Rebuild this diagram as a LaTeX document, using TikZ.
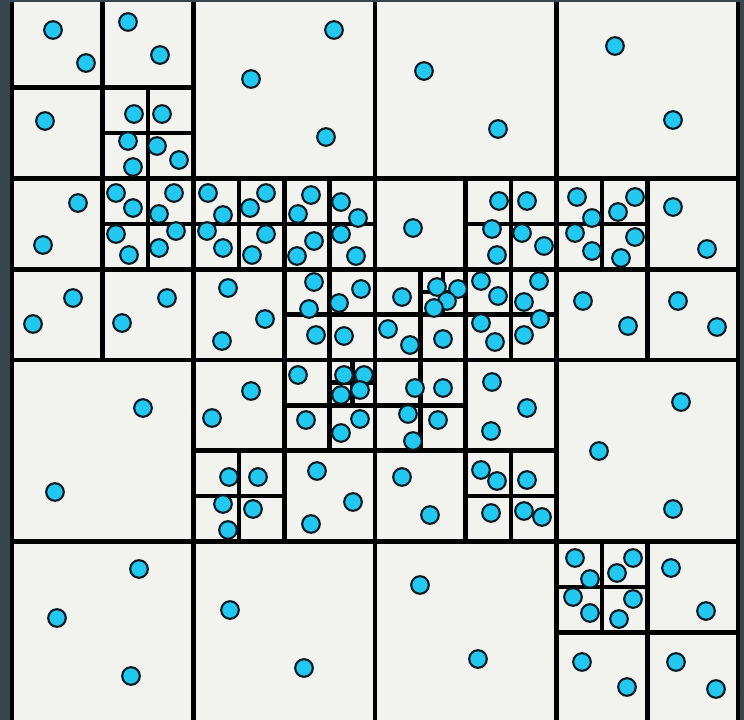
\documentclass[tikz,border=0pt]{standalone}
\definecolor{slate}{HTML}{37474F}
\definecolor{paper}{HTML}{F2F2EF}
\definecolor{dotfill}{HTML}{22C8F0}
\definecolor{dotline}{HTML}{0E1A22}
\begin{document}
\begin{tikzpicture}[x=0.75pt,y=-0.75pt]
\tikzset{
  gridline/.style={line width=3.4pt, black, line cap=rect},
  dot/.style={fill=dotfill, draw=dotline, line width=1.6pt}
}
\useasboundingbox (0,0) rectangle (744,720);
\fill[slate] (0,0) rectangle (744,720);
\fill[paper] (12,-3) rectangle (738,723);
\begin{scope}[shift={(12,-3)}, x=17.015625pt, y=-17.015625pt]
  % top-level 4x4 grid and border
  \foreach \k in {0,8,16,24,32} {
    \draw[gridline] (\k,0) -- (\k,32);
    \draw[gridline] (0,\k) -- (32,\k);
  }
  % second level
  \foreach \cx/\cy in {0/0,0/8,8/8,16/8,24/8,8/16,16/16,24/24} {
    \draw[gridline] (\cx+4,\cy) -- (\cx+4,\cy+8);
    \draw[gridline] (\cx,\cy+4) -- (\cx+8,\cy+4);
  }
  % third level
  \foreach \cx/\cy in {4/4,4/8,8/8,12/8,12/12,20/8,16/12,20/12,24/8,12/16,8/20,16/16,20/20,24/24} {
    \draw[gridline] (\cx+2,\cy) -- (\cx+2,\cy+4);
    \draw[gridline] (\cx,\cy+2) -- (\cx+4,\cy+2);
  }
  % fourth level
  \foreach \cx/\cy in {18/12,14/16} {
    \draw[gridline] (\cx+1,\cy) -- (\cx+1,\cy+2);
    \draw[gridline] (\cx,\cy+1) -- (\cx+2,\cy+1);
  }
\end{scope}
\fill[slate] (0,0) rectangle (744,2.5);
% points
\foreach \x/\y in {
  53/30,86/63,128/22,160/55,45/121,134/114,162/114,128/141,133/167,157/146,179/160,
  334/30,251/79,326/137,
  424/71,498/129,
  615/46,673/120,
  78/203,43/245,116/193,133/208,174/193,159/214,116/234,129/255,176/231,159/248,73/298,33/324,167/298,122/323,
  208/193,223/215,207/231,223/248,266/193,250/208,266/234,252/255,311/195,298/214,341/202,358/218,314/241,297/256,341/234,356/256,228/288,222/341,265/319,314/282,309/309,361/289,339/303,316/335,344/336,
  413/228,499/201,527/201,492/229,497/255,522/233,544/246,402/297,437/287,458/289,447/301,434/308,388/329,410/345,443/339,481/281,498/296,539/281,524/302,481/323,495/342,540/319,524/335,
  577/197,592/218,635/197,618/212,575/233,592/251,635/237,621/258,673/207,707/249,583/301,628/326,678/301,717/327,
  143/408,55/492,
  251/391,212/418,298/375,344/375,364/375,341/395,360/390,306/420,360/419,341/433,229/477,258/477,223/504,253/509,228/530,317/471,353/502,311/524,
  415/388,443/388,408/414,438/420,413/441,492/382,527/408,491/431,402/477,430/515,481/470,497/481,527/480,491/513,524/511,542/517,
  681/402,599/451,673/509,
  139/569,57/618,131/676,
  230/610,304/668,
  420/585,478/659,
  575/558,590/579,633/558,617/573,573/597,590/613,633/599,619/619,671/568,706/611,582/662,627/687,676/662,716/689}
  \draw[dot] (\x,\y) circle[radius=6.6pt];
\end{tikzpicture}
\end{document}
